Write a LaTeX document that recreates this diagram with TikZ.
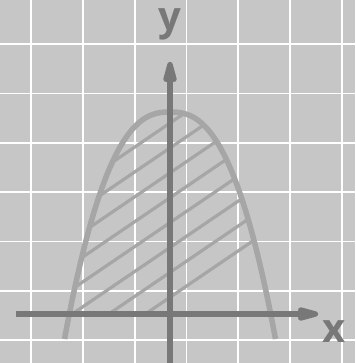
\documentclass[tikz,border=0pt]{standalone}
\usepackage{fontspec}
\setmainfont{Open Sans}
\usetikzlibrary{arrows.meta}
\definecolor{bggray}{HTML}{C6C6C6}
\definecolor{axisgray}{HTML}{787878}
\definecolor{curvegray}{HTML}{A6A6A6}
\begin{document}
\begin{tikzpicture}[x=1pt,y=-1pt,
  axis/.style={line width=5.5pt,draw=axisgray,-{Stealth[length=34pt,width=18pt,inset=9pt,round]}},
  hatch/.style={line width=3.2pt,draw=curvegray},
  gridline/.style={white,line width=1.8pt},
  lbl/.style={text=axisgray,font=\bfseries\fontsize{40}{40}\selectfont,inner sep=0pt,anchor=base}]
  \useasboundingbox (0,0) rectangle (355,363);
  \fill[bggray] (0,0) rectangle (355,363);
  \foreach \i in {1,...,7}
    \draw[gridline] ({51.8*\i-20.8},0) -- ({51.8*\i-20.8},363);
  \foreach \j in {0,...,6}
    \draw[gridline] (0,{44.3+49.3*\j}) -- (355,{44.3+49.3*\j});
  \begin{scope}
    \clip (0,0) rectangle (355,314);
    \clip plot[domain=-105.5:105.5,samples=80] ({170+\x},{112+227*(abs(\x)/105.5)^2.5}) -- cycle;
    \foreach \k in {-8,...,4}
      \draw[hatch] ({36.6*\k-151},416) -- ({36.6*\k+449},8);
  \end{scope}
  \draw[curvegray,line width=5.5pt] plot[domain=-105.5:105.5,samples=80] ({170+\x},{112+227*(abs(\x)/105.5)^2.5});
  \coordinate (xs) at (16,314);
  \coordinate (xe) at (318,314);
  \coordinate (ys) at (170,363);
  \coordinate (ye) at (170,62);
  \draw[axis] (xs) -- (xe);
  \draw[axis] (ys) -- (ye);
  \node[lbl] (ylabel) at (170,31) {y};
  \node[lbl] (xlabel) at (333.7,342) {x};
\end{tikzpicture}
\end{document}
